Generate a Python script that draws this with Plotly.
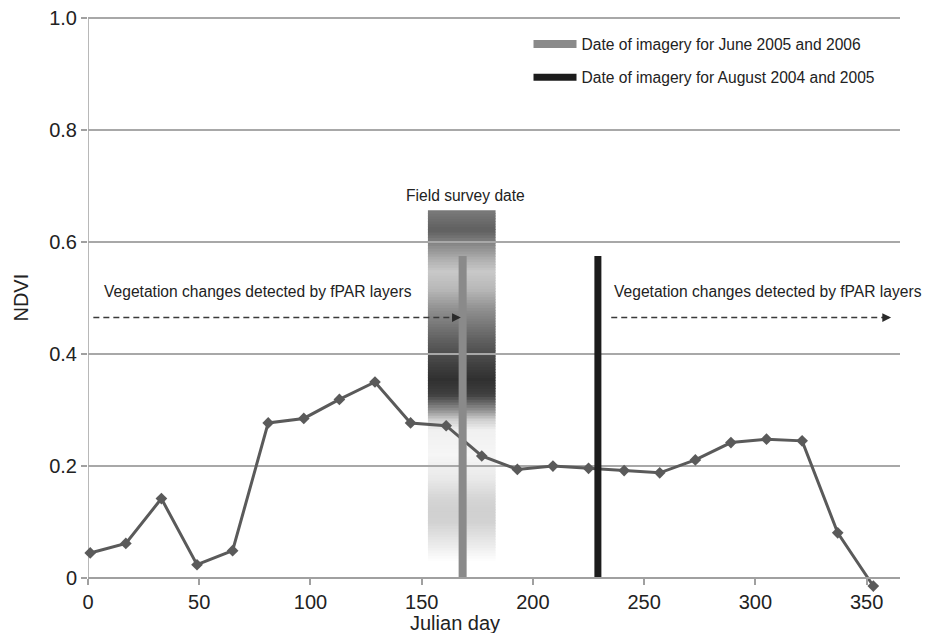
import numpy as np
import plotly.graph_objects as go

# ---- data ----
julian_day = [1, 17, 33, 49, 65, 81, 97, 113, 129, 145, 161, 177, 193, 209, 225,
              241, 257, 273, 289, 305, 321, 337, 353]
ndvi = [0.045, 0.062, 0.142, 0.024, 0.049, 0.277, 0.285, 0.319, 0.350, 0.277, 0.272,
        0.218, 0.194, 0.200, 0.196, 0.192, 0.188, 0.211, 0.242, 0.248, 0.245, 0.081, -0.014]

june_imagery_day = 168.4
august_imagery_day = 229.2
imagery_bar_top = 0.575

survey_start, survey_end = 152.8, 183.2
survey_top, survey_bottom = 0.655, 0.03

arrow_y = 0.465
left_arrow = (2.4, 167.6)
right_arrow = (235.2, 361.0)

x_ticks = [0, 50, 100, 150, 200, 250, 300, 350]
y_ticks = [0, 0.2, 0.4, 0.6, 0.8, 1.0]
y_ticktext = ["0", "0.2", "0.4", "0.6", "0.8", "1.0"]

# gradient stops for the field-survey band (value, grey level)
band_stops_y = [0.030, 0.058, 0.10, 0.12, 0.14, 0.175, 0.22, 0.264, 0.282, 0.30, 0.327,
                0.354, 0.38, 0.425, 0.48, 0.515, 0.547, 0.568, 0.60, 0.62, 0.63, 0.655]
band_stops_g = [255, 236, 210, 208, 212, 232, 246, 240, 208, 144, 64,
                48, 64, 96, 144, 184, 200, 176, 128, 96, 102, 122]

Y_MIN = -0.03
Y_MAX = 1.003
FONT = "Liberation Sans, Arial, sans-serif"
TXT = "#222"
fig = go.Figure()

# gradient band (thin rectangles)
n = 130
edges = np.linspace(survey_bottom, survey_top, n + 1)
shapes = []
for i in range(n):
    mid = 0.5 * (edges[i] + edges[i + 1])
    g = int(round(np.interp(mid, band_stops_y, band_stops_g)))
    shapes.append(dict(type="rect", xref="x", yref="y", x0=survey_start, x1=survey_end,
                       y0=edges[i], y1=edges[i + 1] + 0.0015, line=dict(width=0),
                       fillcolor=f"rgb({g},{g},{g})", layer="below"))

# y axis line (from 0 to 1)
shapes.append(dict(type="line", xref="x", yref="y", x0=0, x1=0, y0=0, y1=1.0,
                   line=dict(color="#a0a0a0", width=1.5), layer="below"))

# dashed arrow shafts
for (xa, xb) in [left_arrow, right_arrow]:
    shapes.append(dict(type="line", xref="x", yref="y", x0=xa, x1=xb - 2.5, y0=arrow_y, y1=arrow_y,
                       line=dict(color="#3a3a3a", width=1.6, dash="6px,4px"), layer="above"))

# NDVI line
fig.add_trace(go.Scatter(x=julian_day, y=ndvi, mode="lines+markers",
                         line=dict(color="#5a5a5a", width=3),
                         marker=dict(symbol="diamond", size=9, color="#5a5a5a"),
                         cliponaxis=False, showlegend=False, hoverinfo="x+y"))

# imagery bars
fig.add_trace(go.Scatter(x=[june_imagery_day, june_imagery_day], y=[0, imagery_bar_top],
                         mode="lines", line=dict(color="#8a8a8a", width=8),
                         name="Date of imagery for June 2005 and 2006", legend="legend"))
fig.add_trace(go.Scatter(x=[august_imagery_day, august_imagery_day], y=[0, imagery_bar_top],
                         mode="lines", line=dict(color="#1c1c1c", width=7),
                         name="Date of imagery for August 2004 and 2005", legend="legend2"))

TS = 15.6
zero_frac = (0 - Y_MIN) / (Y_MAX - Y_MIN)
annotations = [
    dict(x=6.3, y=0.512, xref="x", yref="y", text="Vegetation changes detected by fPAR layers",
         showarrow=False, xanchor="left", yanchor="middle", font=dict(size=TS, color=TXT)),
    dict(x=235.7, y=0.512, xref="x", yref="y", text="Vegetation changes detected by fPAR layers",
         showarrow=False, xanchor="left", yanchor="middle", font=dict(size=TS, color=TXT)),
    dict(x=169.7, y=0.682, xref="x", yref="y", text="Field survey date",
         showarrow=False, xanchor="center", yanchor="middle", font=dict(size=TS, color=TXT)),
    dict(x=165, y=(-0.0806 - Y_MIN) / (Y_MAX - Y_MIN), xref="x", yref="paper", text="Julian day",
         showarrow=False, xanchor="center", yanchor="middle", font=dict(size=20, color=TXT)),
    dict(x=-0.083, y=0.5, xref="paper", yref="y", text="NDVI", showarrow=False, textangle=-90,
         xanchor="center", yanchor="middle", font=dict(size=20, color=TXT)),
]
# arrow heads
for xb in [left_arrow[1], right_arrow[1]]:
    annotations.append(dict(x=xb, y=arrow_y, xref="x", yref="y", ax=-10, ay=0,
                            axref="pixel", ayref="pixel", text="", showarrow=True,
                            arrowhead=2, arrowsize=1.1, arrowwidth=1.6, arrowcolor="#2a2a2a"))

# the page body adds an 8 px offset; the figure is sized to fit the window
fig.update_layout(
    width=915, height=625,
    margin=dict(l=80, r=23, t=8, b=38),
    paper_bgcolor="white", plot_bgcolor="white",
    font=dict(family=FONT, size=20, color=TXT),
    shapes=shapes, annotations=annotations,
    legend=dict(x=0.5425, y=0.951, xanchor="left", yanchor="middle", itemwidth=43,
                bgcolor="rgba(0,0,0,0)", font=dict(size=TS, color=TXT)),
    legend2=dict(x=0.5425, y=0.8935, xanchor="left", yanchor="middle", itemwidth=43,
                 bgcolor="rgba(0,0,0,0)", font=dict(size=TS, color=TXT)),
    xaxis=dict(range=[0, 365], tickvals=x_ticks, showgrid=False, zeroline=False,
               anchor="free", position=zero_frac, automargin=False,
               showline=True, linecolor="#a0a0a0", linewidth=1.5,
               ticks="outside", ticklen=6, tickcolor="#a0a0a0", tickwidth=1.5,
               tickfont=dict(size=20, color=TXT), ticklabeloverflow="allow"),
    yaxis=dict(range=[Y_MIN, Y_MAX], tickvals=y_ticks, ticktext=y_ticktext, automargin=False,
               showgrid=True, gridcolor="#a8a8a8", gridwidth=1.5, zeroline=False,
               showline=False, ticklabeloverflow="allow",
               ticks="outside", ticklen=6, tickcolor="#a0a0a0", tickwidth=1.5,
               tickfont=dict(size=20, color=TXT)),
)

fig.write_html("out.html")
